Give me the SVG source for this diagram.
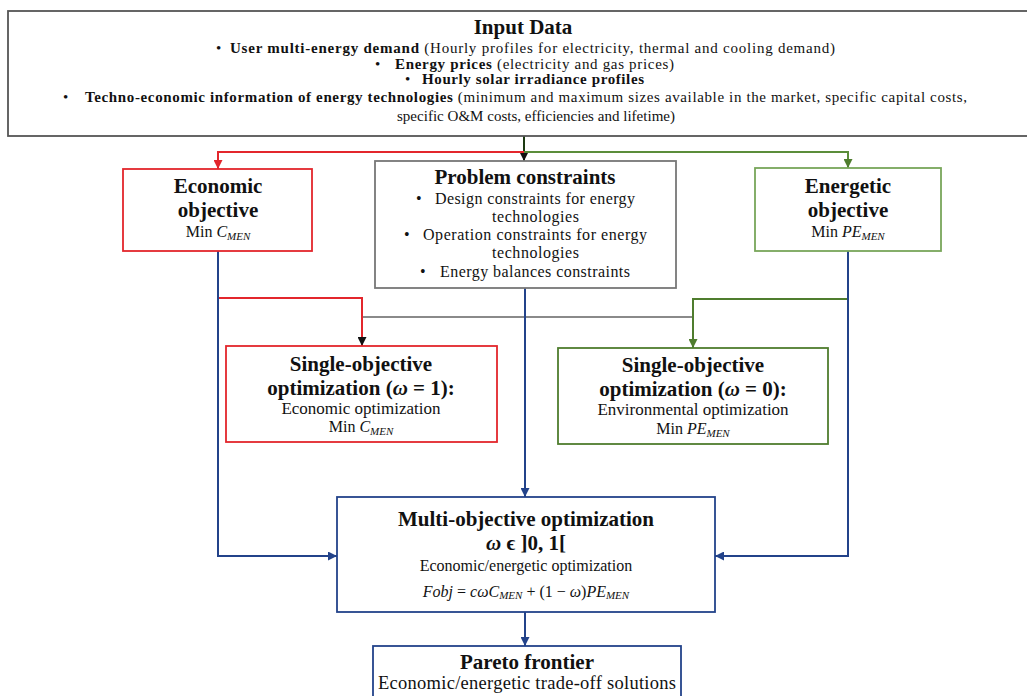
<svg xmlns="http://www.w3.org/2000/svg" width="1027" height="696" viewBox="0 0 1027 696">
<defs>
<style>
text{font-family:'Liberation Serif','Times New Roman',serif;fill:#111}
.h{font-size:21px;font-weight:bold;text-anchor:middle}
.b{font-size:16px}
.i{font-size:15px}
.s{font-size:17px}
.c{text-anchor:middle}
.bd{font-weight:bold}
.it{font-style:italic}
.sub{font-size:11px;font-style:italic}
.box{fill:#fff;stroke-width:1.8}
.ln{fill:none;stroke-width:2}
</style>
<marker id="ah-k" viewBox="0 0 10 10" refX="10" refY="5" markerWidth="9" markerHeight="9" markerUnits="userSpaceOnUse" orient="auto"><path d="M0,0 L10,5 L0,10 z" fill="#111"/></marker>
<marker id="ah-r" viewBox="0 0 10 10" refX="10" refY="5" markerWidth="9" markerHeight="9" markerUnits="userSpaceOnUse" orient="auto"><path d="M0,0 L10,5 L0,10 z" fill="#e3262c"/></marker>
<marker id="ah-g" viewBox="0 0 10 10" refX="10" refY="5" markerWidth="9" markerHeight="9" markerUnits="userSpaceOnUse" orient="auto"><path d="M0,0 L10,5 L0,10 z" fill="#4f7d2e"/></marker>
<marker id="ah-b" viewBox="0 0 10 10" refX="10" refY="5" markerWidth="9" markerHeight="9" markerUnits="userSpaceOnUse" orient="auto"><path d="M0,0 L10,5 L0,10 z" fill="#23438a"/></marker>
</defs>
<rect width="1027" height="696" fill="#fff"/>

<g id="connectors">
<path class="ln" d="M524,136 V161" stroke="#1d3a12" marker-end="url(#ah-k)"/>
<path class="ln" d="M524,152 H218 V169" stroke="#e3262c" marker-end="url(#ah-r)"/>
<path class="ln" d="M524,152 H848 V168" stroke="#5b8d3a" marker-end="url(#ah-g)"/>
<path class="ln" d="M362,317 H693" stroke="#8a8a8a"/>
<path class="ln" d="M218,298 H362 V346" stroke="#e3262c" marker-end="url(#ah-k)"/>
<path class="ln" d="M848,299 H693 V348" stroke="#4f7d2e" marker-end="url(#ah-g)"/>
<path class="ln" d="M218,251 V556 H337" stroke="#23438a" marker-end="url(#ah-b)"/>
<path class="ln" d="M848,251 V556 H715" stroke="#23438a" marker-end="url(#ah-b)"/>
<path class="ln" d="M525,288 V497" stroke="#23438a" marker-end="url(#ah-b)"/>
<path class="ln" d="M525,612 V646" stroke="#23438a" stroke-width="2.6" marker-end="url(#ah-b)"/>
</g>

<g id="input-data">
<rect class="box" x="8" y="11" width="1030" height="125" stroke="#555" stroke-width="1.5"/>
<text class="h" x="523" y="34">Input Data</text>
<text class="i" x="216" y="53">•</text>
<text class="i" x="230" y="53" textLength="605" lengthAdjust="spacing"><tspan class="bd">User multi-energy demand</tspan> (Hourly profiles for electricity, thermal and cooling demand)</text>
<text class="i" x="375" y="69">•</text>
<text class="i" x="395" y="69" textLength="279" lengthAdjust="spacing"><tspan class="bd">Energy prices</tspan> (electricity and gas prices)</text>
<text class="i" x="405" y="84">•</text>
<text class="i bd" x="422" y="84" textLength="222" lengthAdjust="spacing">Hourly solar irradiance profiles</text>
<text class="i" x="63" y="102">•</text>
<text class="i" x="85" y="102" textLength="882" lengthAdjust="spacing"><tspan class="bd">Techno-economic information of energy technologies</tspan> (minimum and maximum sizes available in the market, specific capital costs,</text>
<text class="i" x="397" y="121" textLength="278" lengthAdjust="spacing">specific O&amp;M costs, efficiencies and lifetime)</text>
</g>

<g id="economic-objective">
<rect class="box" x="123" y="169" width="189" height="82" stroke="#e3262c"/>
<text class="h" x="218" y="193">Economic</text>
<text class="h" x="218" y="217">objective</text>
<text class="b c" x="218" y="237">Min <tspan class="it">C</tspan><tspan class="sub" dy="3">MEN</tspan></text>
</g>

<g id="problem-constraints">
<rect class="box" x="375" y="161" width="301" height="127" stroke="#777" stroke-width="1.2"/>
<text class="h" x="525" y="184">Problem constraints</text>
<text class="b" x="416" y="204">•</text>
<text class="b" x="435" y="204" textLength="200" lengthAdjust="spacing">Design constraints for energy</text>
<text class="b" x="492" y="222" textLength="87" lengthAdjust="spacing">technologies</text>
<text class="b" x="404" y="240">•</text>
<text class="b" x="423" y="240" textLength="224" lengthAdjust="spacing">Operation constraints for energy</text>
<text class="b" x="492" y="258" textLength="87" lengthAdjust="spacing">technologies</text>
<text class="b" x="420" y="277">•</text>
<text class="b" x="440" y="277" textLength="190" lengthAdjust="spacing">Energy balances constraints</text>
</g>

<g id="energetic-objective">
<rect class="box" x="755" y="168" width="186" height="83" stroke="#78a65a"/>
<text class="h" x="848" y="193">Energetic</text>
<text class="h" x="848" y="217">objective</text>
<text class="b c" x="848" y="237">Min <tspan class="it">PE</tspan><tspan class="sub" dy="3">MEN</tspan></text>
</g>

<g id="single-objective-economic">
<rect class="box" x="226" y="346" width="271" height="96" stroke="#e3262c"/>
<text class="h" x="361" y="371">Single-objective</text>
<text class="h" x="361" y="395">optimization (<tspan class="it">ω</tspan> = 1):</text>
<text class="s c" x="361" y="414">Economic optimization</text>
<text class="b c" x="361" y="432">Min <tspan class="it">C</tspan><tspan class="sub" dy="3">MEN</tspan></text>
</g>

<g id="single-objective-energetic">
<rect class="box" x="558" y="348" width="270" height="96" stroke="#4f7d2e"/>
<text class="h" x="693" y="372">Single-objective</text>
<text class="h" x="693" y="396">optimization (<tspan class="it">ω</tspan> = 0):</text>
<text class="s c" x="693" y="415">Environmental optimization</text>
<text class="b c" x="693" y="434">Min <tspan class="it">PE</tspan><tspan class="sub" dy="3">MEN</tspan></text>
</g>

<g id="multi-objective">
<rect class="box" x="337" y="497" width="378" height="115" stroke="#23438a"/>
<text class="h" x="526" y="526">Multi-objective optimization</text>
<text class="h" x="526" y="550"><tspan class="it">ω</tspan> ϵ ]0, 1[</text>
<text class="b c" x="526" y="571">Economic/energetic optimization</text>
<text class="b c" x="526" y="597" font-size="15"><tspan class="it">Fobj</tspan> = <tspan class="it">cωC</tspan><tspan class="sub" font-size="9" dy="2">MEN</tspan><tspan dy="-2"> + (1 − </tspan><tspan class="it">ω</tspan>)<tspan class="it">PE</tspan><tspan class="sub" font-size="9" dy="2">MEN</tspan></text>
</g>

<g id="pareto-frontier">
<rect class="box" x="373" y="646" width="308" height="60" stroke="#23438a"/>
<text class="h" x="527" y="669">Pareto frontier</text>
<text class="c" x="527" y="689" font-size="18.5" textLength="298" lengthAdjust="spacing">Economic/energetic trade-off solutions</text>
</g>
</svg>
